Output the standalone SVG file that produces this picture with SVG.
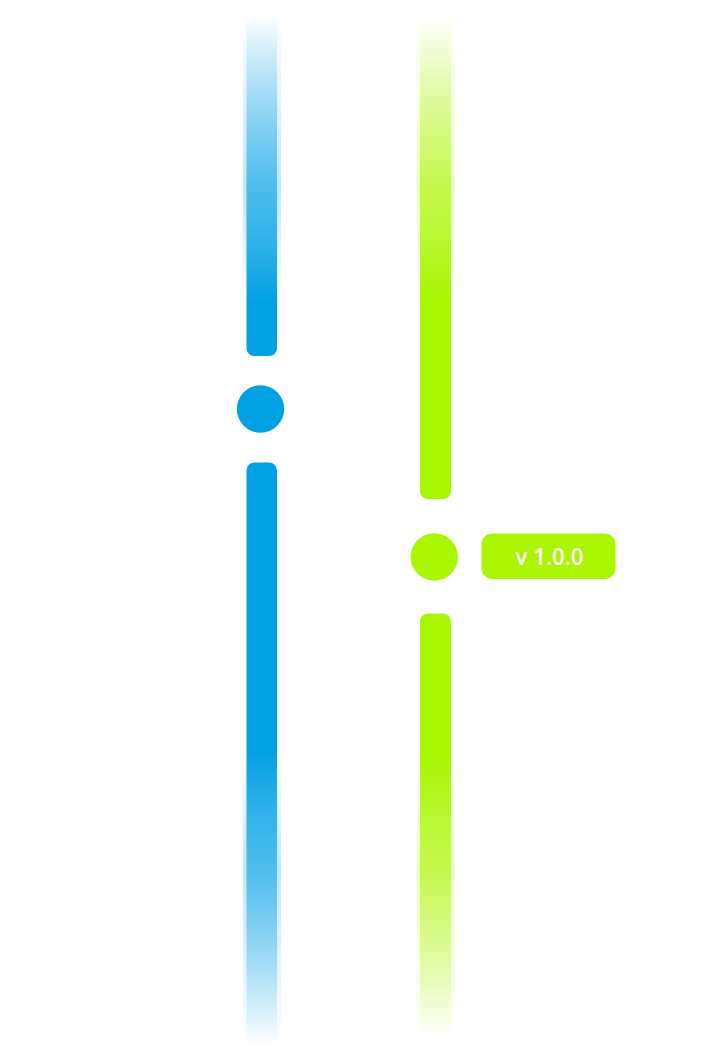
<svg xmlns="http://www.w3.org/2000/svg" width="709" height="1063" viewBox="0 0 709 1063">
  <defs>
    <linearGradient id="blueUp" gradientUnits="userSpaceOnUse" x1="0" y1="14" x2="0" y2="303">
      <stop offset="0" stop-color="#00A0E3" stop-opacity="0"/>
      <stop offset="1" stop-color="#00A0E3" stop-opacity="1"/>
    </linearGradient>
    <linearGradient id="blueUpGlow" gradientUnits="userSpaceOnUse" x1="0" y1="14" x2="0" y2="303">
      <stop offset="0" stop-color="#00A0E3" stop-opacity="0"/>
      <stop offset="0.6" stop-color="#00A0E3" stop-opacity="0.25"/>
      <stop offset="1" stop-color="#00A0E3" stop-opacity="0"/>
    </linearGradient>
    <linearGradient id="blueDown" gradientUnits="userSpaceOnUse" x1="0" y1="750" x2="0" y2="1045">
      <stop offset="0" stop-color="#00A0E3" stop-opacity="1"/>
      <stop offset="1" stop-color="#00A0E3" stop-opacity="0"/>
    </linearGradient>
    <linearGradient id="blueDownGlow" gradientUnits="userSpaceOnUse" x1="0" y1="750" x2="0" y2="1045">
      <stop offset="0" stop-color="#00A0E3" stop-opacity="0"/>
      <stop offset="0.4" stop-color="#00A0E3" stop-opacity="0.25"/>
      <stop offset="1" stop-color="#00A0E3" stop-opacity="0"/>
    </linearGradient>
    <linearGradient id="greenUp" gradientUnits="userSpaceOnUse" x1="0" y1="17" x2="0" y2="300">
      <stop offset="0" stop-color="#AAF500" stop-opacity="0"/>
      <stop offset="1" stop-color="#AAF500" stop-opacity="1"/>
    </linearGradient>
    <linearGradient id="greenUpGlow" gradientUnits="userSpaceOnUse" x1="0" y1="17" x2="0" y2="300">
      <stop offset="0" stop-color="#AAF500" stop-opacity="0"/>
      <stop offset="0.6" stop-color="#AAF500" stop-opacity="0.25"/>
      <stop offset="1" stop-color="#AAF500" stop-opacity="0"/>
    </linearGradient>
    <linearGradient id="greenDown" gradientUnits="userSpaceOnUse" x1="0" y1="757" x2="0" y2="1038">
      <stop offset="0" stop-color="#AAF500" stop-opacity="1"/>
      <stop offset="1" stop-color="#AAF500" stop-opacity="0"/>
    </linearGradient>
    <linearGradient id="greenDownGlow" gradientUnits="userSpaceOnUse" x1="0" y1="757" x2="0" y2="1038">
      <stop offset="0" stop-color="#AAF500" stop-opacity="0"/>
      <stop offset="0.4" stop-color="#AAF500" stop-opacity="0.25"/>
      <stop offset="1" stop-color="#AAF500" stop-opacity="0"/>
    </linearGradient>
  </defs>
  <style>
    .blue { fill: #00A0E3; }
    .green { fill: #AAF500; }
    .label { font-family: "Open Sans", "Noto Sans", sans-serif; font-size: 24px; font-weight: 600; fill: #FFFFFF; text-anchor: middle; }
  </style>

  <g id="connectors">
    <!-- blue upper -->
    <rect x="243" y="14" width="38" height="289" fill="url(#blueUpGlow)"/>
    <rect x="246.5" y="14" width="30.5" height="342" rx="8" fill="url(#blueUp)"/>
    <!-- blue lower -->
    <rect x="243" y="750" width="38" height="295" fill="url(#blueDownGlow)"/>
    <rect x="246.5" y="462.5" width="30.5" height="583" rx="8" fill="url(#blueDown)"/>
    <!-- green upper -->
    <rect x="416.5" y="17" width="38" height="283" fill="url(#greenUpGlow)"/>
    <rect x="420" y="17" width="31" height="482" rx="8" fill="url(#greenUp)"/>
    <!-- green lower -->
    <rect x="416.5" y="757" width="38" height="281" fill="url(#greenDownGlow)"/>
    <rect x="420" y="613.5" width="31" height="425" rx="8" fill="url(#greenDown)"/>
  </g>

  <g id="node-blue">
    <circle class="blue" cx="260.5" cy="409" r="23.7"/>
  </g>

  <g id="node-green">
    <circle class="green" cx="434.3" cy="557" r="23.7"/>
  </g>

  <g id="label-version">
    <rect class="green" x="481.5" y="533.5" width="134" height="45.5" rx="11"/>
    <text class="label" x="549.5" y="565" textLength="68" lengthAdjust="spacingAndGlyphs">v 1.0.0</text>
  </g>
</svg>
